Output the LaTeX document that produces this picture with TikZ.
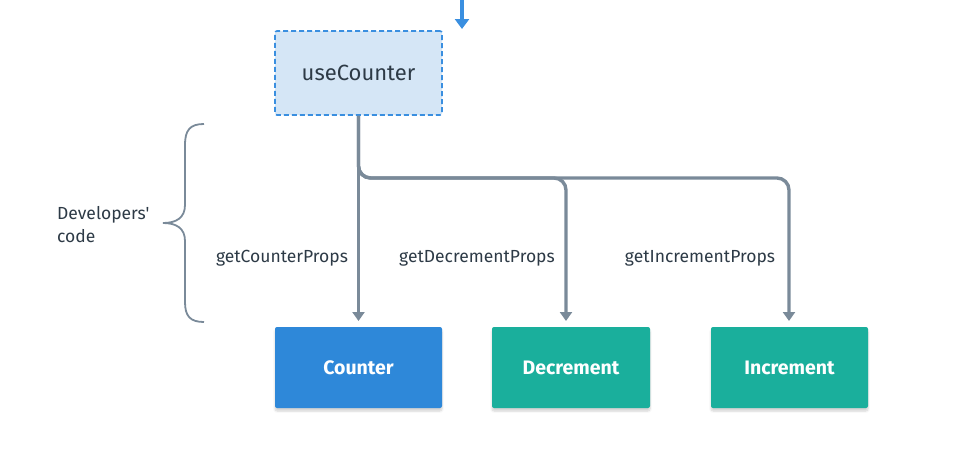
\documentclass[tikz,border=0pt]{standalone}
\usepackage{fontspec}
\setmainfont{Fira Sans}[Ligatures=TeXOff]
\usetikzlibrary{arrows.meta,shadows.blur}
\definecolor{linegray}{HTML}{7A8A99}
\definecolor{ucblue}{HTML}{3A8FE0}
\definecolor{ucfill}{HTML}{D5E6F6}
\definecolor{ctrblue}{HTML}{2E88D9}
\definecolor{tealc}{HTML}{1AAF9C}
\definecolor{txt}{HTML}{2D3A46}
\tikzset{
  conn/.style={draw=linegray, line width=3.4pt, -{Triangle[length=9pt,width=12pt]}, shorten >=6pt},
  bus/.style={conn, rounded corners=12pt},
  ucbox/.style={draw=ucblue, fill=ucfill, line width=1.6pt, dash pattern=on 5pt off 3pt,
    rounded corners=2pt, minimum width=167pt, minimum height=84pt, inner sep=0pt,
    font=\fontsize{22}{26}\selectfont, text=txt},
  comp/.style={rounded corners=2pt, minimum height=81pt, inner sep=0pt, text=white,
    font=\fontsize{19.5}{23}\selectfont\bfseries,
    blur shadow={shadow xshift=0pt, shadow yshift=-3pt, shadow blur steps=6, shadow opacity=18}},
  lbl/.style={text=txt, font=\fontsize{17.5}{20}\selectfont, inner sep=0pt},
}
\begin{document}
\begin{tikzpicture}[x=1pt,y=-1pt]
\useasboundingbox (0,0) rectangle (955,458);
% top incoming arrow
\coordinate (in) at (462,0);
\coordinate (inend) at (462,29);
\draw[ucblue, line width=3.2pt, -{Triangle[length=10pt,width=14pt]}] (in) -- (inend);
% useCounter
\node[ucbox] (uc) at (358.5,73) {useCounter};
% components
\node[comp, fill=ctrblue, minimum width=167pt] (ctr) at (358.5,367.5) {Counter};
\node[comp, fill=tealc, minimum width=158pt] (dec) at (571,367.5) {Decrement};
\node[comp, fill=tealc, minimum width=157pt] (inc) at (789.5,367.5) {Increment};
% connector end points
\coordinate (busy) at (0,178);
\coordinate (decin) at (566,327);
\coordinate (incin) at (789,327);
\coordinate (ctrin) at (358.5,327);
% connectors
\draw[bus] (uc.south) |- (busy -| incin) -- (incin);
\draw[bus] (uc.south) |- (busy -| decin) -- (decin);
\draw[conn] (uc.south) -- (ctrin);
% labels
\node[lbl] (l1) at (282,258) {getCounterProps};
\node[lbl] (l2) at (477,258) {getDecrementProps};
\node[lbl] (l3) at (700,258) {getIncrementProps};
% brace
\draw[linegray, line width=1.8pt] (204,124) .. controls (190,124) and (185,130) .. (185,145)
  -- (185,205) .. controls (185,218) and (176,223) .. (163,223)
  .. controls (176,223) and (185,228) .. (185,241)
  -- (185,302) .. controls (185,316) and (190,322) .. (204,322);
\node[lbl, align=left, anchor=west] (dev) at (57,225) {Developers'\\[3pt]code};
\end{tikzpicture}
\end{document}
